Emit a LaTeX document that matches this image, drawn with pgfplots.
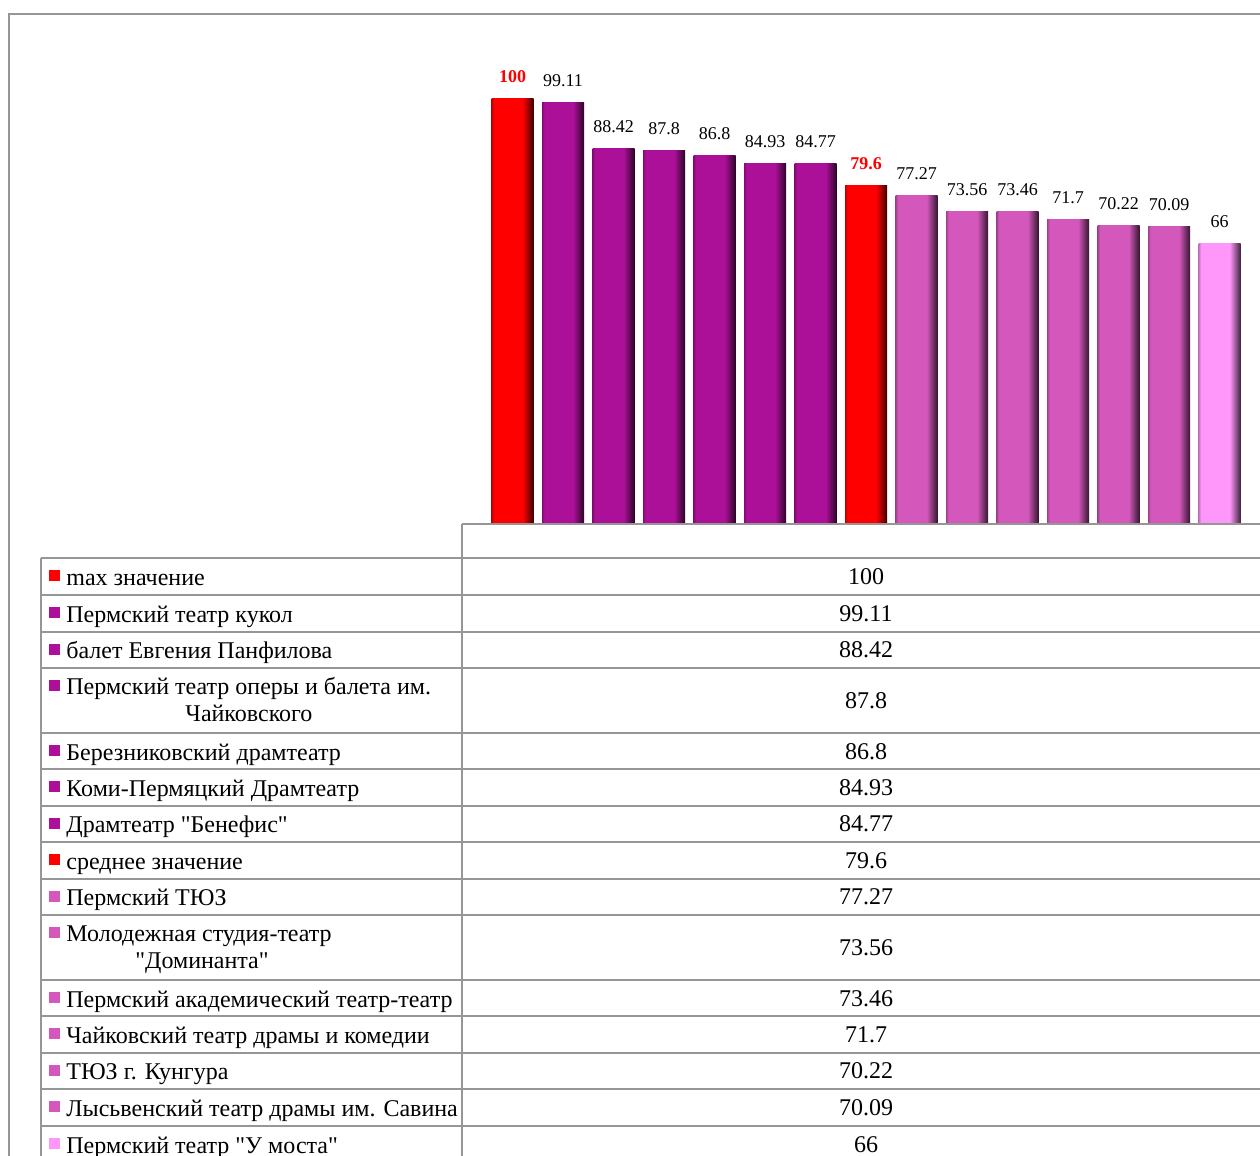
\documentclass[border=0pt]{standalone}
\usepackage{fontspec}
\setmainfont{Liberation Serif}
\usepackage{pgfplots}
\pgfplotsset{compat=1.18}

\definecolor{cR}{RGB}{255,0,0}
\definecolor{cP}{RGB}{172,16,152}
\definecolor{cM}{RGB}{212,88,188}
\definecolor{cL}{RGB}{255,150,250}
\definecolor{lineg}{RGB}{150,150,150}

% bar look: flat face, darker right edge
\pgfdeclarehorizontalshading{shR}{100bp}{color(0bp)=(cR!75!black); color(25bp)=(cR!75!black); color(28bp)=(cR); color(62bp)=(cR); color(75bp)=(cR!25!black); color(100bp)=(cR!25!black)}
\pgfdeclarehorizontalshading{shP}{100bp}{color(0bp)=(cP!75!black); color(25bp)=(cP!75!black); color(28bp)=(cP); color(62bp)=(cP); color(75bp)=(cP!25!black); color(100bp)=(cP!25!black)}
\pgfdeclarehorizontalshading{shM}{100bp}{color(0bp)=(cM!75!black); color(25bp)=(cM!75!black); color(28bp)=(cM); color(62bp)=(cM); color(75bp)=(cM!25!black); color(100bp)=(cM!25!black)}
\pgfdeclarehorizontalshading{shL}{100bp}{color(0bp)=(cL!75!black); color(25bp)=(cL!75!black); color(28bp)=(cL); color(62bp)=(cL); color(75bp)=(cL!25!black); color(100bp)=(cL!25!black)}

% straight double quote, bypassing the TeX ligature mapping
\newcommand\q{\XeTeXglyph\XeTeXcharglyph"22\relax}

% one table row: top edge (px), colour, label, value
\newcommand\row[4]{%
  \fill[#2] (49,#1+12) rectangle (60,#1+23);
  \node[anchor=base west] at (66,#1+27) {#3};
  \node[anchor=base] at (866,#1+26) {#4};}

\begin{document}
\begin{tikzpicture}
\path[use as bounding box] (0,0) rectangle (630pt,-578pt);
\clip (0,0) rectangle (630pt,-578pt);

\begin{axis}[
  at={(231pt,-262pt)}, anchor=south west,
  scale only axis, width=404pt, height=233.75pt,
  xmin=-1, xmax=15, ymin=0, ymax=110,
  hide axis, clip=false,
  ybar, bar width=21pt, bar shift=0pt,
  point meta=explicit symbolic,
  nodes near coords,
  every node near coord/.append style={font=\fontsize{9}{10}\selectfont, anchor=base, yshift=8pt, inner sep=0pt},
  bevel/.style={draw=none, shade, shading=#1},
  barR/.style={bevel=shR,
    every node near coord/.append style={text=red, font=\fontsize{9}{10}\selectfont\bfseries}},
  barP/.style={bevel=shP},
  barM/.style={bevel=shM},
  barL/.style={bevel=shL},
]
\addplot[barR] coordinates {(0,100) [100]};
\addplot[barP] coordinates {(1,99.11) [99.11]};
\addplot[barP] coordinates {(2,88.42) [88.42]};
\addplot[barP] coordinates {(3,87.8) [87.8]};
\addplot[barP] coordinates {(4,86.8) [86.8]};
\addplot[barP] coordinates {(5,84.93) [84.93]};
\addplot[barP] coordinates {(6,84.77) [84.77]};
\addplot[barR] coordinates {(7,79.6) [79.6]};
\addplot[barM] coordinates {(8,77.27) [77.27]};
\addplot[barM] coordinates {(9,73.56) [73.56]};
\addplot[barM] coordinates {(10,73.46) [73.46]};
\addplot[barM] coordinates {(11,71.7) [71.7]};
\addplot[barM] coordinates {(12,70.22) [70.22]};
\addplot[barM] coordinates {(13,70.09) [70.09]};
\addplot[barL] coordinates {(14,66) [66]};
\end{axis}

\begin{scope}[x=0.5pt, y=-0.5pt, every node/.style={inner sep=0pt, font=\fontsize{12}{14}\selectfont}]
  % outer frame
  \draw[lineg, line width=0.8pt] (9,1170) -- (9,14) -- (1270,14);
  % table grid
  \draw[lineg, line width=1pt] (462,524) -- (1270,524);
  \draw[lineg, line width=1pt] (462,524) -- (462,1170);
  \draw[lineg, line width=1pt] (41,558) -- (41,1170);
  \foreach \yy in {558,595,631.5,668,733,769,805.7,842,878.5,915,980,1016,1052.7,1089,1126}
    \draw[lineg, line width=1pt] (41,\yy) -- (1270,\yy);

  \row{558}{cR}{max значение}{100}
  \row{595}{cP}{Пермский театр кукол}{99.11}
  \row{631.5}{cP}{балет Евгения Панфилова}{88.42}
  \fill[cP] (49,680) rectangle (60,691);
  \node[anchor=base west] at (66,694) {Пермский театр оперы и балета им.};
  \node[anchor=base west] at (185,721) {Чайковского};
  \node[anchor=base] at (866,708) {87.8};
  \row{733}{cP}{Березниковский драмтеатр}{86.8}
  \row{769}{cP}{Коми-Пермяцкий Драмтеатр}{84.93}
  \row{805.7}{cP}{Драмтеатр \q Бенефис\q}{84.77}
  \row{842}{cR}{среднее значение}{79.6}
  \row{878.5}{cM}{Пермский ТЮЗ}{77.27}
  \fill[cM] (49,927) rectangle (60,938);
  \node[anchor=base west] at (66,941) {Молодежная студия-театр};
  \node[anchor=base west] at (135,968) {\q Доминанта\q};
  \node[anchor=base] at (866,955) {73.56};
  \row{980}{cM}{Пермский академический театр-театр}{73.46}
  \row{1016}{cM}{Чайковский театр драмы и комедии}{71.7}
  \row{1052.7}{cM}{ТЮЗ г. Кунгура}{70.22}
  \row{1089}{cM}{Лысьвенский театр драмы им. Савина}{70.09}
  \row{1126}{cL}{Пермский театр \q У моста\q}{66}
\end{scope}
\end{tikzpicture}
\end{document}
